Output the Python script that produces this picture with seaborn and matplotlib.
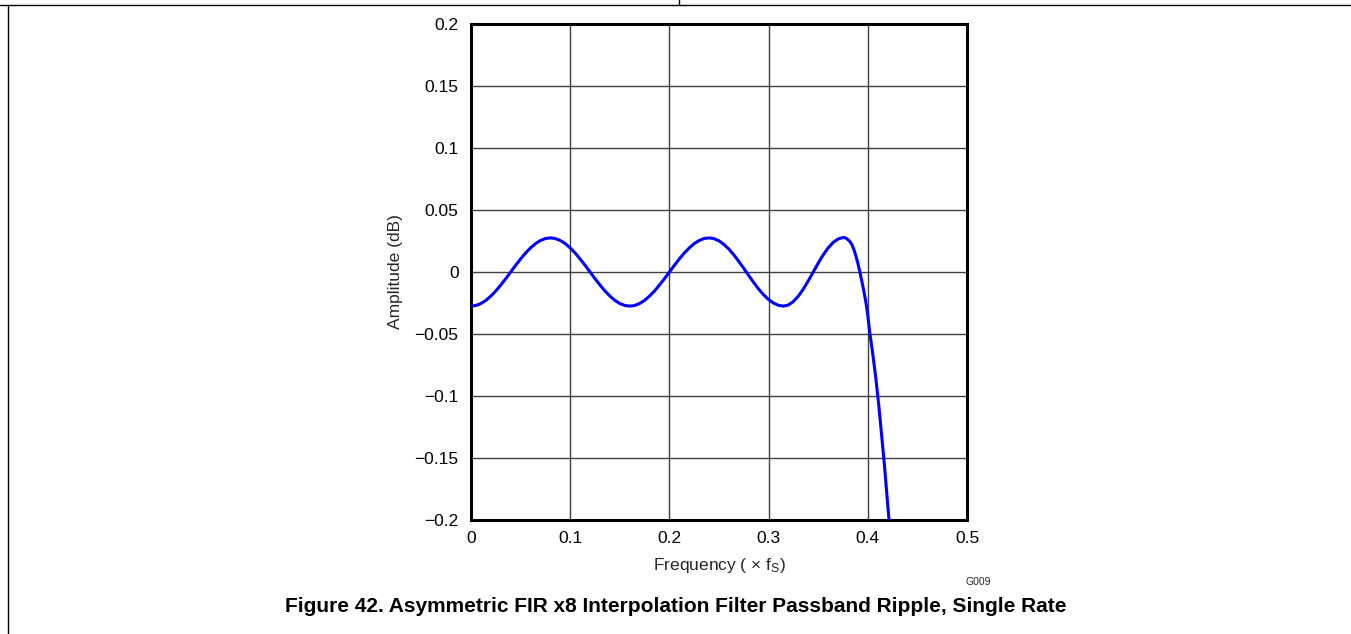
import matplotlib
matplotlib.use("Agg")
import matplotlib.pyplot as plt
import seaborn as sns
import pandas as pd
from matplotlib.lines import Line2D

# Data
freq = [0.000, 0.005, 0.010, 0.015, 0.020, 0.025, 0.030, 0.035, 0.040,
        0.045, 0.050, 0.055, 0.060, 0.065, 0.070, 0.075, 0.080,
        0.085, 0.090, 0.095, 0.100, 0.105, 0.110, 0.115, 0.120,
        0.125, 0.130, 0.135, 0.140, 0.145, 0.150, 0.155, 0.160,
        0.165, 0.170, 0.175, 0.180, 0.185, 0.190, 0.195, 0.200,
        0.205, 0.210, 0.215, 0.220, 0.225, 0.230, 0.235, 0.240,
        0.245, 0.250, 0.255, 0.260, 0.265, 0.270, 0.275, 0.280,
        0.285, 0.290, 0.295, 0.300, 0.305, 0.310, 0.315,
        0.320, 0.325, 0.330, 0.335, 0.340, 0.345,
        0.350, 0.355, 0.360, 0.365, 0.370, 0.375,
        0.377, 0.379, 0.382, 0.384, 0.386, 0.388, 0.390, 0.392,
        0.394, 0.396, 0.398, 0.400, 0.402, 0.405, 0.408, 0.411,
        0.414, 0.417, 0.420, 0.4214, 0.424]
amp = [-0.0275, -0.0270, -0.0254, -0.0229, -0.0194, -0.0153, -0.0105, -0.0054, 0.0000,
       0.0054, 0.0105, 0.0153, 0.0194, 0.0229, 0.0254, 0.0270, 0.0275,
       0.0270, 0.0254, 0.0229, 0.0194, 0.0153, 0.0105, 0.0054, 0.0000,
       -0.0054, -0.0105, -0.0153, -0.0194, -0.0229, -0.0254, -0.0270, -0.0275,
       -0.0270, -0.0254, -0.0229, -0.0194, -0.0153, -0.0105, -0.0054, 0.0000,
       0.0054, 0.0105, 0.0153, 0.0194, 0.0229, 0.0254, 0.0270, 0.0275,
       0.0269, 0.0251, 0.0222, 0.0184, 0.0138, 0.0085, 0.0029, -0.0029,
       -0.0085, -0.0138, -0.0184, -0.0222, -0.0251, -0.0269, -0.0275,
       -0.0266, -0.0238, -0.0194, -0.0138, -0.0071, 0.0000,
       0.0071, 0.0138, 0.0194, 0.0238, 0.0266, 0.0278,
       0.0276, 0.0268, 0.0245, 0.0220, 0.0180, 0.0130, 0.0070, 0.0000,
       -0.0075, -0.0155, -0.0240, -0.0350, -0.0490, -0.0660, -0.0850, -0.1070,
       -0.1320, -0.1580, -0.1870, -0.2000, -0.2250]

xticks = [0, 0.1, 0.2, 0.3, 0.4, 0.5]
xtick_labels = ["0", "0.1", "0.2", "0.3", "0.4", "0.5"]
yticks = [-0.2, -0.15, -0.1, -0.05, 0, 0.05, 0.1, 0.15, 0.2]
ytick_labels = ["\u22120.2", "\u22120.15", "\u22120.1", "\u22120.05", "0",
                "0.05", "0.1", "0.15", "0.2"]

sns.set_style("white")
plt.rcParams["font.family"] = ["Liberation Sans", "DejaVu Sans"]
plt.rcParams["mathtext.fontset"] = "custom"
plt.rcParams["mathtext.rm"] = "Liberation Sans"
plt.rcParams["mathtext.it"] = "Liberation Sans"

W, H = 1351, 634
fig = plt.figure(figsize=(W / 100, H / 100), dpi=100)
ax = fig.add_axes([471 / W, 1 - 520 / H, 496 / W, 496 / H])

df = pd.DataFrame({"freq": freq, "amp": amp})
sns.lineplot(data=df, x="freq", y="amp", ax=ax, color="#0000FF",
             linewidth=2.2, zorder=3, sort=False)

ax.set_xlim(0, 0.5)
ax.set_ylim(-0.2, 0.2)
ax.set_xticks(xticks)
ax.set_xticklabels(xtick_labels)
ax.set_yticks(yticks)
ax.set_yticklabels(ytick_labels)
ax.grid(True, color="#404040", linewidth=1.0)
ax.tick_params(axis="x", length=0, labelsize=12.5, colors="black", pad=8)
ax.tick_params(axis="y", length=0, labelsize=12.5, colors="black", pad=9)
for s in ax.spines.values():
    s.set_visible(True)
    s.set_color("black")
    s.set_linewidth(2.2)

ax.set_xlabel("Frequency ( \u00d7 f$_\\mathrm{S}$)", fontsize=12.5, labelpad=7)
ax.set_ylabel("Amplitude (dB)", fontsize=12.5, labelpad=8.5)

fig.text(978 / W, 1 - 582 / H, "G009", fontsize=7.5, ha="center", va="center")
fig.text(676 / W, 1 - 606 / H,
         "Figure 42. Asymmetric FIR x8 Interpolation Filter Passband Ripple, Single Rate",
         fontsize=15, fontweight="bold", ha="center", va="center", color="black")

# page frame lines
fig.add_artist(Line2D([0, 1], [1 - 5 / H, 1 - 5 / H], transform=fig.transFigure,
                      color="black", linewidth=1.0))
fig.add_artist(Line2D([8 / W, 8 / W], [0, 1 - 5 / H], transform=fig.transFigure,
                      color="black", linewidth=1.0))
fig.add_artist(Line2D([679 / W, 679 / W], [1 - 5 / H, 1], transform=fig.transFigure,
                      color="black", linewidth=1.0))

fig.savefig("out.png", dpi=100)
